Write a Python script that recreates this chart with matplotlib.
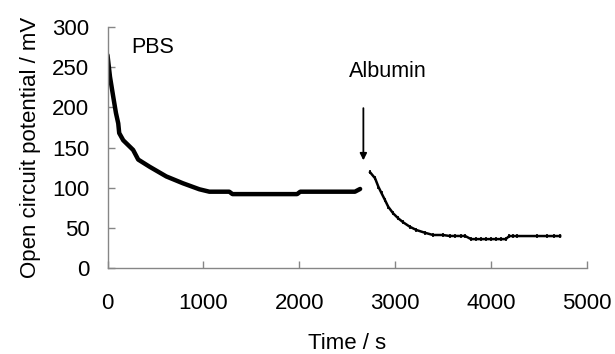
import matplotlib
matplotlib.use("Agg")
import matplotlib.pyplot as plt

plt.rcParams['font.family'] = ['Liberation Sans', 'DejaVu Sans']

# PBS segment (thick line)
pbs_t = [0, 26, 60, 88, 112, 122, 164, 267, 320, 440, 613, 786, 958, 1062,
         1270, 1303, 1977, 2010, 2580, 2634]
pbs_v = [265, 238, 213, 193, 180, 168, 159, 147, 135, 126, 114, 105.5, 98, 95,
         95, 92, 92, 95, 95, 98.4]

# after albumin addition (thin line with small markers)
alb_t = [2738, 2790, 2824, 2858, 2893, 2927, 2979, 3031, 3083, 3152, 3221, 3307,
         3394, 3497, 3567, 3625, 3681, 3729, 3790, 3843, 3894, 3946, 3998, 4050,
         4101, 4153, 4189, 4223, 4275, 4482, 4585, 4655, 4720]
alb_v = [119.2, 111.7, 101.3, 93, 84.7, 76.3, 68, 61.9, 56.9, 51.4, 47.3, 44,
         41.1, 41.1, 39.9, 39.9, 39.9, 39.9, 36, 36, 36, 36, 36, 36,
         36, 36, 39.8, 39.8, 39.8, 39.8, 39.8, 39.8, 39.8]

fig = plt.figure(figsize=(6.15, 3.54), dpi=100)
ax = fig.add_axes([0.1748, 0.2429, 0.7797, 0.6808])

ax.plot(pbs_t, pbs_v, color='black', lw=3.2, solid_capstyle='round')
ax.plot(alb_t, alb_v, color='black', lw=1.8, marker='|', ms=3.5, mew=1.2)

ax.set_xlim(0, 5000)
ax.set_ylim(0, 300)
ax.set_xticks([0, 1000, 2000, 3000, 4000, 5000])
ax.set_yticks([0, 50, 100, 150, 200, 250, 300])

for s in ['top', 'right']:
    ax.spines[s].set_visible(False)
for s in ['left', 'bottom']:
    ax.spines[s].set_color('#868686')
    ax.spines[s].set_linewidth(1.0)
ax.tick_params(direction='in', length=5, width=1, color='#868686',
               labelsize=16)
ax.tick_params(axis='x', pad=18)
ax.tick_params(axis='y', pad=13)

ax.set_xlabel('Time / s', fontsize=16, labelpad=14)
ax.set_ylabel('Open circuit potential / mV', fontsize=16, labelpad=8)

ax.text(472, 274, 'PBS', fontsize=15.5, ha='center', va='center')
ax.text(2928, 244, 'Albumin', fontsize=15.5, ha='center', va='center')
ax.annotate('', xy=(2668, 134), xytext=(2668, 199),
            arrowprops=dict(arrowstyle='-|>', color='black', lw=1.3,
                            mutation_scale=10, shrinkA=0, shrinkB=0))

fig.savefig('out.png', dpi=100)
